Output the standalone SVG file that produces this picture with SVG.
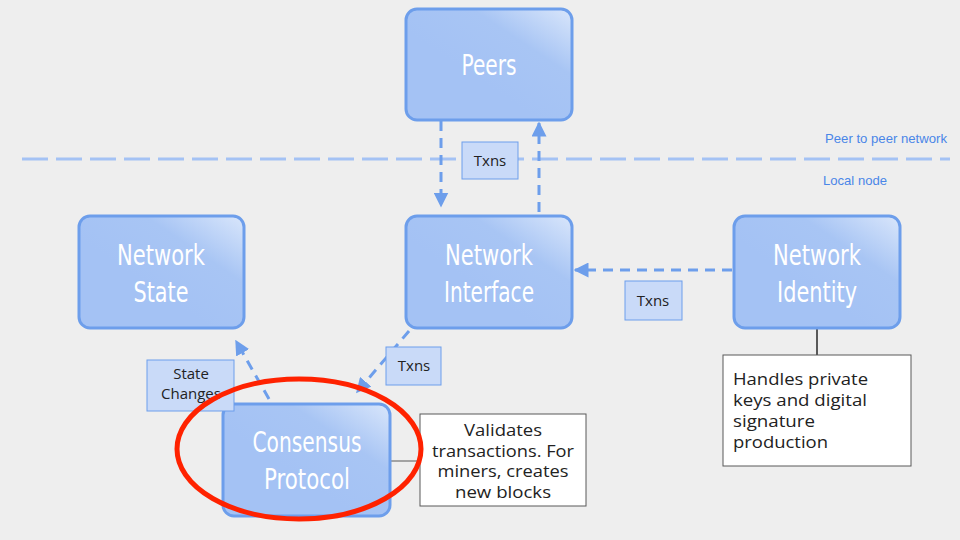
<svg xmlns="http://www.w3.org/2000/svg" width="960" height="540" viewBox="0 0 960 540">
<defs>
<linearGradient id="g" x1="1" y1="0" x2="0.4" y2="0.6">
<stop offset="0" stop-color="#d9e6fb"/>
<stop offset="0.5" stop-color="#a8c5f4"/>
<stop offset="1" stop-color="#a4c2f4"/>
</linearGradient>
<marker id="ah" viewBox="0 0 10 10" refX="9" refY="5" markerWidth="5" markerHeight="5" markerUnits="strokeWidth" orient="auto">
<path d="M0,0 L10,5 L0,10 z" fill="#6d9eeb"/>
</marker>
<style>
.node{fill:url(#g);stroke:#6d9eeb;stroke-width:3}
.nt{font-family:"DejaVu Sans","Liberation Sans",sans-serif;font-size:29px;fill:#ffffff;text-anchor:middle}
.conn{stroke:#6d9eeb;stroke-width:3;stroke-dasharray:10 7;fill:none}
.lbl{fill:#c9daf8;stroke:#6d9eeb;stroke-width:1}
.lt{font-family:"Open Sans","Liberation Sans",sans-serif;font-size:15px;fill:#222;text-anchor:middle}
.note{fill:#ffffff;stroke:#595959;stroke-width:1}
.ntx{font-family:"Open Sans","Liberation Sans",sans-serif;font-size:16px;fill:#222}
.zone{font-family:"Liberation Sans",sans-serif;font-size:13px;fill:#4a86e8}
</style>
</defs>
<rect width="960" height="540" fill="#eeeeee"/>
<line x1="22" y1="159" x2="950" y2="159" stroke="#a4c2f4" stroke-width="3" stroke-dasharray="26 8"/>
<text class="zone" x="825" y="143" textLength="122" lengthAdjust="spacingAndGlyphs">Peer to peer network</text>
<text class="zone" x="823" y="185" textLength="64" lengthAdjust="spacingAndGlyphs">Local node</text>
<g id="connectors">
<line class="conn" x1="441" y1="121" x2="441" y2="206" marker-end="url(#ah)"/>
<line class="conn" x1="539" y1="212" x2="539" y2="123" marker-end="url(#ah)"/>
<line class="conn" x1="732" y1="270" x2="575" y2="270" marker-end="url(#ah)"/>
<line class="conn" x1="409" y1="331" x2="357" y2="392" marker-end="url(#ah)"/>
<line class="conn" x1="269" y1="399" x2="236" y2="341" marker-end="url(#ah)"/>
<line x1="390" y1="461" x2="420" y2="461" stroke="#595959" stroke-width="1"/>
<line x1="817" y1="329" x2="817" y2="355" stroke="#595959" stroke-width="2"/>
</g>
<g id="peers"><rect class="node" x="406" y="9" width="166" height="111" rx="11"/><text class="nt" x="489" y="75" textLength="55" lengthAdjust="spacingAndGlyphs">Peers</text></g>
<g id="network-state"><rect class="node" x="79" y="216" width="165" height="112" rx="11"/><text class="nt" x="161" y="265" textLength="88" lengthAdjust="spacingAndGlyphs">Network</text><text class="nt" x="161" y="302" textLength="55" lengthAdjust="spacingAndGlyphs">State</text></g>
<g id="network-interface"><rect class="node" x="406" y="216" width="166" height="112" rx="11"/><text class="nt" x="489" y="265" textLength="88" lengthAdjust="spacingAndGlyphs">Network</text><text class="nt" x="489" y="302" textLength="90" lengthAdjust="spacingAndGlyphs">Interface</text></g>
<g id="network-identity"><rect class="node" x="734" y="216" width="166" height="112" rx="11"/><text class="nt" x="817" y="265" textLength="88" lengthAdjust="spacingAndGlyphs">Network</text><text class="nt" x="817" y="302" textLength="80" lengthAdjust="spacingAndGlyphs">Identity</text></g>
<g id="consensus-protocol"><rect class="node" x="223" y="404" width="167" height="112" rx="11"/><text class="nt" x="307" y="452" textLength="109" lengthAdjust="spacingAndGlyphs">Consensus</text><text class="nt" x="307" y="489" textLength="86" lengthAdjust="spacingAndGlyphs">Protocol</text></g>
<g id="label-txns-1"><rect class="lbl" x="462" y="142" width="56" height="37"/><text class="lt" x="490" y="166">Txns</text></g>
<g id="label-txns-2"><rect class="lbl" x="625" y="281" width="57" height="39"/><text class="lt" x="653" y="306">Txns</text></g>
<g id="label-txns-3"><rect class="lbl" x="386" y="347" width="55" height="38"/><text class="lt" x="414" y="371">Txns</text></g>
<g id="label-state-changes"><rect class="lbl" x="147" y="360" width="87" height="51"/><text class="lt" font-size="11.5"><tspan x="191" y="379">State</tspan><tspan x="191" y="399">Changes</tspan></text></g>
<g id="note-validates"><rect class="note" x="420" y="414" width="166" height="92"/>
<text class="ntx" text-anchor="middle" x="503" y="436" textLength="78" lengthAdjust="spacingAndGlyphs">Validates</text>
<text class="ntx" text-anchor="middle" x="503" y="457" textLength="142" lengthAdjust="spacingAndGlyphs">transactions. For</text>
<text class="ntx" text-anchor="middle" x="503" y="477" textLength="131" lengthAdjust="spacingAndGlyphs">miners, creates</text>
<text class="ntx" text-anchor="middle" x="503" y="498" textLength="96" lengthAdjust="spacingAndGlyphs">new blocks</text></g>
<g id="note-handles"><rect class="note" x="723" y="355" width="188" height="111"/>
<text class="ntx" x="733" y="385" textLength="135" lengthAdjust="spacingAndGlyphs">Handles private</text>
<text class="ntx" x="733" y="406" textLength="134" lengthAdjust="spacingAndGlyphs">keys and digital</text>
<text class="ntx" x="733" y="427" textLength="82" lengthAdjust="spacingAndGlyphs">signature</text>
<text class="ntx" x="733" y="448" textLength="95" lengthAdjust="spacingAndGlyphs">production</text></g>
<ellipse cx="299" cy="449" rx="122" ry="70" fill="none" stroke="#ff2200" stroke-width="5"/>
</svg>
